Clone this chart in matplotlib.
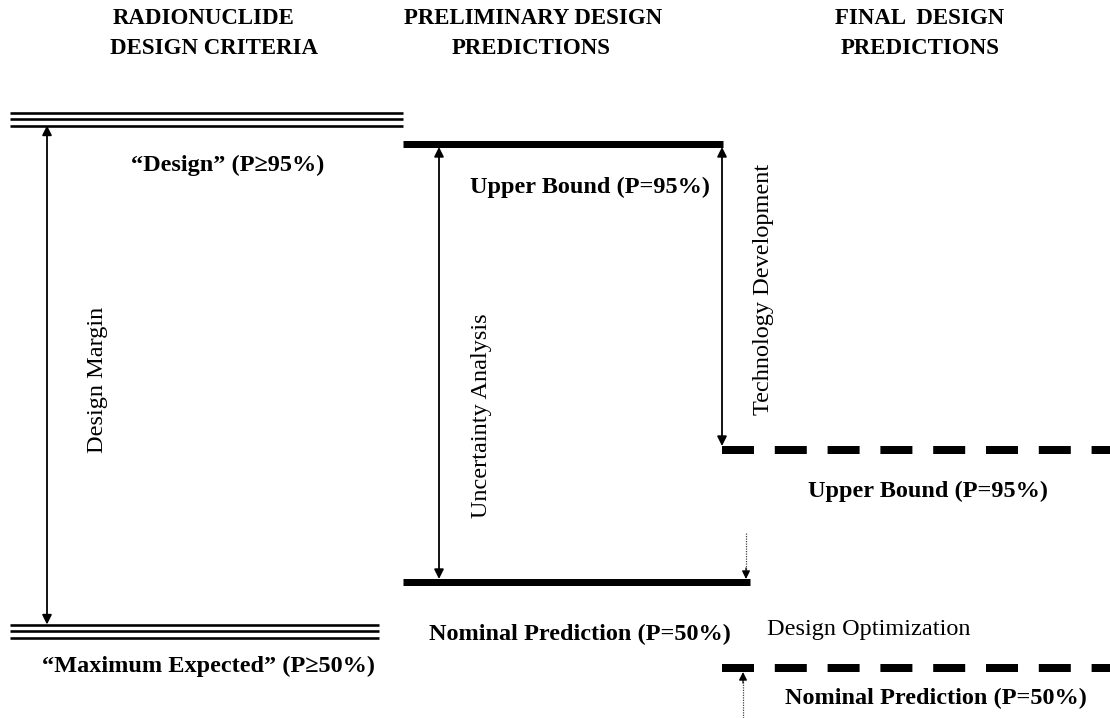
import matplotlib.pyplot as plt

# ---------------- DATA ----------------
# column headings
headers = [["RADIONUCLIDE", "DESIGN CRITERIA"],
           ["PRELIMINARY DESIGN", "PREDICTIONS"],
           ["FINAL  DESIGN", "PREDICTIONS"]]
header_x = [[204, 214], [533, 531], [920, 920]]

# levels (drawing units, y grows downward)
criteria_levels = [119, 631]          # design, maximum expected
criteria_labels = ["\u201cDesign\u201d (P\u226595%)",
                   "\u201cMaximum Expected\u201d (P\u226550%)"]
prelim_levels = [144, 582]            # upper bound, nominal
prelim_labels = ["Upper Bound (P=95%)", "Nominal Prediction (P=50%)"]
final_levels = [450, 668]             # upper bound, nominal
final_labels = ["Upper Bound (P=95%)", "Nominal Prediction (P=50%)"]

arrow_labels = ["Design Margin", "Uncertainty Analysis",
                "Technology Development", "Design Optimization"]

W, H = 1110, 718
px = 72.0 / 100  # points per pixel

fig = plt.figure(figsize=(W / 100, H / 100), dpi=100)
ax = fig.add_axes([0, 0, 1, 1])
ax.set_xlim(0, W)
ax.set_ylim(H, 0)
ax.axis("off")

serif = "Liberation Serif"
bold = dict(family=serif, weight="bold", fontsize=17.5, color="black")
plain = dict(family=serif, fontsize=17.5, color="black")

# ---------------- HEADERS ----------------
for (x1, x2), (l1, l2) in zip(header_x, headers):
    ax.text(x1, 19, l1, ha="center", va="center", fontsize=16.5, family=serif, weight="bold")
    ax.text(x2, 49, l2, ha="center", va="center", fontsize=16.5, family=serif, weight="bold")

# ---------------- DESIGN CRITERIA (triple lines) ----------------
for lev, x1 in zip(criteria_levels, [403, 379]):
    for off in (-6.5, 0, 6.5):
        ax.plot([10, x1], [lev + off, lev + off], color="black", lw=2.6 * px,
                solid_capstyle="butt")

def darrow(x, y0, y1, lw=1.3):
    ax.annotate("", xy=(x, y1), xytext=(x, y0),
                arrowprops=dict(arrowstyle="<|-|>", color="black", lw=lw,
                                mutation_scale=14, shrinkA=0, shrinkB=0))

darrow(47, criteria_levels[0] + 6.5, criteria_levels[1] - 6.5)
ax.text(97, 380, arrow_labels[0], rotation=90, ha="center", va="center", **plain)

ax.text(228, 165, criteria_labels[0], ha="center", va="center", **bold)
ax.text(208, 666, criteria_labels[1], ha="center", va="center", **bold)

# ---------------- PRELIMINARY DESIGN ----------------
ax.plot([403, 723], [prelim_levels[0]] * 2, color="black", lw=7 * px, solid_capstyle="butt")
ax.plot([403, 750], [prelim_levels[1]] * 2, color="black", lw=7 * px, solid_capstyle="butt")

darrow(439, prelim_levels[0] + 3, prelim_levels[1] - 3)
ax.text(481, 416, arrow_labels[1], rotation=90, ha="center", va="center", **plain)

ax.text(590, 187, prelim_labels[0], ha="center", va="center", **bold)
ax.text(580, 634, prelim_labels[1], ha="center", va="center", **bold)

# ---------------- FINAL DESIGN ----------------
for lev in final_levels:
    ax.plot([722, W], [lev, lev], color="black", lw=8 * px, dashes=(4.0, 2.6),
            dash_capstyle="butt")

darrow(722, prelim_levels[0] + 3, final_levels[0] - 4)
ax.text(763, 289, arrow_labels[2], rotation=90, ha="center", va="center", **plain)

ax.text(928, 491, final_labels[0], ha="center", va="center", **bold)
ax.text(936, 698, final_labels[1], ha="center", va="center", **bold)

# design optimization: dotted arrows converging on the two nominal levels
ax.plot([746, 746], [533, prelim_levels[1] - 12], color="#444444", lw=0.9, ls=(0, (1, 1)))
ax.annotate("", xy=(746, prelim_levels[1] - 3), xytext=(746, prelim_levels[1] - 14),
            arrowprops=dict(arrowstyle="-|>", color="black", lw=0.9,
                            mutation_scale=12, shrinkA=0, shrinkB=0))
ax.plot([743, 743], [H, final_levels[1] + 12], color="#444444", lw=0.9, ls=(0, (1, 1)))
ax.annotate("", xy=(743, final_levels[1] + 4), xytext=(743, final_levels[1] + 15),
            arrowprops=dict(arrowstyle="-|>", color="black", lw=0.9,
                            mutation_scale=12, shrinkA=0, shrinkB=0))
ax.text(767, 630, arrow_labels[3], ha="left", va="center", **plain)

fig.savefig("out.png", dpi=100, facecolor="white")
